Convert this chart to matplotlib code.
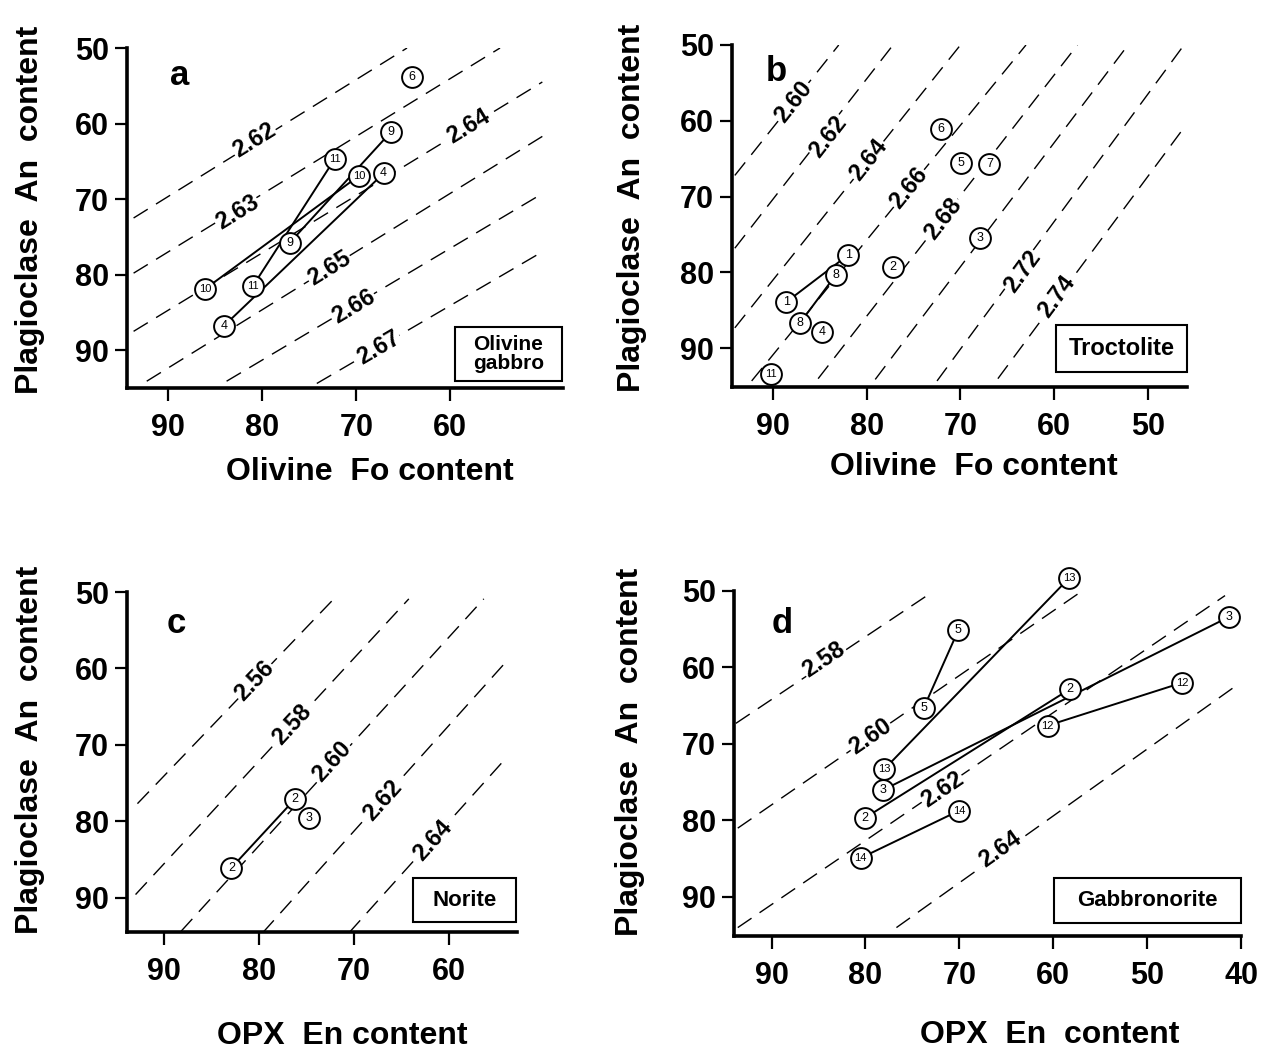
import numpy as np
import matplotlib
matplotlib.use('Agg')
import matplotlib.pyplot as plt
from matplotlib.patches import Rectangle

plt.rcParams['font.family'] = ['Liberation Sans', 'DejaVu Sans']

W, H = 1263, 1057

# ---------------- Panel a : Olivine gabbro ----------------
a_labels = ["6", "9", "11", "10", "4", "9", "10", "11", "4"]
a_fo = [64.1, 66.3, 72.3, 69.7, 67.1, 77.1, 86.1, 81.0, 84.1]
a_an = [53.8, 61.1, 64.7, 66.9, 66.6, 75.8, 81.9, 81.5, 86.8]
a_links = [(5, 1), (7, 2), (6, 3), (8, 4)]
a_iso = ["2.62", "2.63", "2.64", "2.65", "2.66", "2.67"]
a_iso_x0 = [93.7, 93.7, 93.7, 92.3, 83.8, 74.2]
a_iso_y0 = [72.5, 79.8, 87.5, 94.1, 94.1, 94.4]
a_iso_x1 = [64.6, 54.7, 50.2, 50.2, 50.1, 50.1]
a_iso_y1 = [50.0, 50.0, 54.5, 61.7, 69.2, 76.9]
a_iso_lx = [80.9, 82.7, 58.1, 72.9, 70.3, 67.6]
a_iso_ly = [62.2, 71.7, 60.4, 79.1, 84.2, 89.7]

# ---------------- Panel b : Troctolite ----------------
b_labels = ["6", "5", "7", "3", "2", "1", "8", "1", "8", "4", "11"]
b_fo = [72.1, 69.9, 66.9, 67.9, 77.2, 82.0, 83.3, 88.6, 87.1, 84.8, 90.2]
b_an = [61.1, 65.5, 65.7, 75.5, 79.3, 77.7, 80.3, 83.9, 86.6, 87.8, 93.4]
b_links = [(7, 5), (8, 6)]
b_iso = ["2.60", "2.62", "2.64", "2.66", "2.68", "", "2.72", "2.74"]
b_iso_x0 = [94.1, 94.1, 94.1, 92.3, 85.2, 79.1, 72.5, 66.0]
b_iso_y0 = [67.2, 76.8, 87.3, 94.3, 94.0, 94.1, 94.3, 94.0]
b_iso_x1 = [83.0, 77.2, 70.0, 63.0, 57.5, 52.1, 46.3, 46.3]
b_iso_y1 = [50.0, 50.0, 50.0, 50.0, 50.0, 50.0, 50.3, 61.2]
b_iso_lx = [87.8, 84.1, 79.8, 75.5, 71.8, None, 63.4, 59.7]
b_iso_ly = [57.5, 62.1, 65.2, 68.9, 72.9, None, 79.9, 83.2]

# ---------------- Panel c : Norite ----------------
c_labels = ["2", "3", "2"]
c_en = [76.2, 74.7, 82.9]
c_an = [77.1, 79.6, 86.1]
c_links = [(2, 0)]
c_iso = ["2.56", "2.58", "2.60", "2.62", "2.64"]
c_iso_x0 = [92.8, 93.0, 88.2, 79.6, 70.5]
c_iso_y0 = [77.7, 89.6, 94.4, 94.6, 94.6]
c_iso_x1 = [72.1, 64.2, 56.3, 54.0, 54.0]
c_iso_y1 = [50.9, 50.9, 50.9, 59.2, 71.8]
c_iso_lx = [80.5, 76.5, 72.3, 67.0, 61.7]
c_iso_ly = [61.6, 67.4, 72.2, 77.3, 82.5]

# ---------------- Panel d : Gabbronorite ----------------
d_labels = ["13", "3", "5", "5", "2", "12", "12", "13", "3", "2", "14", "14"]
d_en = [58.3, 41.3, 70.1, 73.8, 58.2, 46.3, 60.6, 78.0, 78.1, 80.1, 70.0, 80.5]
d_an = [48.3, 53.4, 55.1, 65.3, 62.8, 62.0, 67.6, 73.3, 76.0, 79.7, 78.7, 84.9]
d_links = [(3, 2), (7, 0), (8, 1), (9, 4), (6, 5), (11, 10)]
d_iso = ["2.58", "2.60", "2.62", "2.64"]
d_iso_x0 = [93.8, 93.6, 93.6, 76.7]
d_iso_y0 = [67.3, 81.0, 94.0, 94.0]
d_iso_x1 = [73.2, 57.4, 41.7, 40.2]
d_iso_y1 = [50.4, 50.4, 50.6, 62.1]
d_iso_lx = [84.4, 79.5, 71.8, 65.7]
d_iso_ly = [59.0, 69.0, 76.0, 83.8]

y_ticks = [50, 60, 70, 80, 90]
a_xticks = [90, 80, 70, 60]
b_xticks = [90, 80, 70, 60, 50]
c_xticks = [90, 80, 70, 60]
d_xticks = [90, 80, 70, 60, 50, 40]

fig = plt.figure(figsize=(W / 100, H / 100), dpi=100)
fig.patch.set_facecolor('white')


def add_ax(l, r, t, b):
    return fig.add_axes([l / W, 1 - b / H, (r - l) / W, (b - t) / H])


def panel(ax, xlim, ylim, xticks, xs, ys, labels, links, iso, ix0, iy0, ix1, iy1,
          ilx, ily, letter, letter_pos, box_text, box_rect, box_fs):
    ax.set_xlim(*xlim)
    ax.set_ylim(*ylim)
    for s in ['top', 'right']:
        ax.spines[s].set_visible(False)
    for s in ['left', 'bottom']:
        ax.spines[s].set_linewidth(2.6)
    ax.set_xticks(xticks)
    ax.set_yticks(y_ticks)
    ax.tick_params(direction='out', length=9, width=1.6)
    ax.tick_params(axis='x', pad=9)
    ax.tick_params(axis='y', pad=4)
    for lab in ax.get_xticklabels() + ax.get_yticklabels():
        lab.set_fontsize(22)
        lab.set_fontweight('bold')
    # iso-density dashed lines
    for k in range(len(iso)):
        ax.plot([ix0[k], ix1[k]], [iy0[k], iy1[k]], color='black', lw=1.0,
                ls=(0, (12, 7)), zorder=2)
        if iso[k] and ilx[k] is not None:
            p0 = ax.transData.transform((ix0[k], iy0[k]))
            p1 = ax.transData.transform((ix1[k], iy1[k]))
            ang = np.degrees(np.arctan2(p1[1] - p0[1], p1[0] - p0[0]))
            if ang > 90:
                ang -= 180
            if ang < -90:
                ang += 180
            ax.text(ilx[k], ily[k], iso[k], rotation=ang, rotation_mode='anchor',
                    ha='center', va='center', fontsize=17, fontweight='bold',
                    zorder=2.5,
                    bbox=dict(facecolor='white', edgecolor='none', pad=0.6))
    # tie lines
    for i, j in links:
        ax.plot([xs[i], xs[j]], [ys[i], ys[j]], color='black', lw=1.4, zorder=3,
                clip_on=False)
    # circled sample numbers
    ax.plot(xs, ys, 'o', ms=15, mfc='white', mec='black', mew=1.4, ls='none',
            zorder=4, clip_on=False)
    for x, y, t in zip(xs, ys, labels):
        ax.text(x, y, t, ha='center', va='center', fontsize=8 if len(t) > 1 else 9,
                zorder=5, clip_on=False)
    ax.text(letter_pos[0], letter_pos[1], letter, transform=ax.transAxes,
            fontsize=25, fontweight='bold', ha='center', va='center')
    x0, y0, x1, y1 = box_rect
    ax.add_patch(Rectangle((x0, y0), x1 - x0, y1 - y0, transform=ax.transAxes,
                           facecolor='white', edgecolor='black', lw=1.5, zorder=6,
                           clip_on=False))
    ax.text((x0 + x1) / 2, (y0 + y1) / 2, box_text, transform=ax.transAxes,
            ha='center', va='center', fontsize=box_fs, fontweight='bold',
            linespacing=1.05, zorder=7)


ax_a = add_ax(127, 563, 48, 388)
panel(ax_a, (94.4, 48.0), (95.0, 50), a_xticks, a_fo, a_an, a_labels, a_links,
      a_iso, a_iso_x0, a_iso_y0, a_iso_x1, a_iso_y1, a_iso_lx, a_iso_ly,
      'a', (0.12, 0.92), 'Olivine\ngabbro', (0.752, 0.021, 0.998, 0.179), 15)

ax_b = add_ax(732, 1187, 45, 387)
panel(ax_b, (94.4, 45.8), (95.1, 50), b_xticks, b_fo, b_an, b_labels, b_links,
      b_iso, b_iso_x0, b_iso_y0, b_iso_x1, b_iso_y1, b_iso_lx, b_iso_ly,
      'b', (0.098, 0.922), 'Troctolite', (0.711, 0.043, 1.0, 0.181), 17)

ax_c = add_ax(127, 517, 592, 932)
panel(ax_c, (93.9, 52.8), (94.5, 50), c_xticks, c_en, c_an, c_labels, c_links,
      c_iso, c_iso_x0, c_iso_y0, c_iso_x1, c_iso_y1, c_iso_lx, c_iso_ly,
      'c', (0.127, 0.908), 'Norite', (0.733, 0.030, 0.997, 0.158), 16)

ax_d = add_ax(734, 1241, 591, 936)
panel(ax_d, (94.0, 40.0), (95.1, 50), d_xticks, d_en, d_an, d_labels, d_links,
      d_iso, d_iso_x0, d_iso_y0, d_iso_x1, d_iso_y1, d_iso_lx, d_iso_ly,
      'd', (0.095, 0.906), 'Gabbronorite', (0.631, 0.037, 1.0, 0.167), 16)

ylab = 'Plagioclase  An  content'
lab_kw = dict(fontsize=23, fontweight='bold', ha='center', va='center')
fig.text(30 / W, 1 - 210 / H, ylab, rotation=90, **lab_kw)
fig.text(632 / W, 1 - 208 / H, ylab, rotation=90, **lab_kw)
fig.text(30 / W, 1 - 750 / H, ylab, rotation=90, **lab_kw)
fig.text(630 / W, 1 - 752 / H, ylab, rotation=90, **lab_kw)

fig.text(370 / W, 1 - 472 / H, 'Olivine  Fo content', **lab_kw)
fig.text(974 / W, 1 - 467 / H, 'Olivine  Fo content', **lab_kw)
fig.text(342 / W, 1 - 1036 / H, 'OPX  En content', **lab_kw)
fig.text(1050 / W, 1 - 1035 / H, 'OPX  En  content', **lab_kw)

fig.savefig('out.png', dpi=100, facecolor='white')
